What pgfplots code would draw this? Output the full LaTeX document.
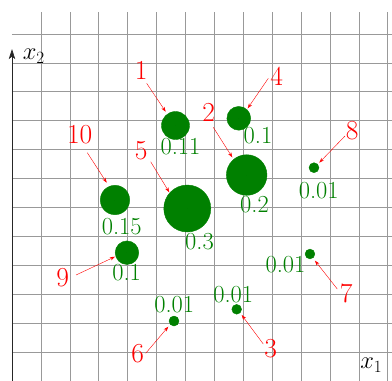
\documentclass[border=0pt]{standalone}
\usepackage{fix-cm}
\usepackage{pgfplots}
\pgfplotsset{compat=1.18}
\usetikzlibrary{arrows.meta}
\definecolor{dotgreen}{RGB}{0,128,0}
\newcommand{\redfont}{\fontsize{27.5}{30}\selectfont}
\newcommand{\greenfont}{\fontsize{24.5}{27}\selectfont}
\pgfplotstableread{
x       y      r     lab   dx     dy
5.657   8.827  14.0  0.11  5.0    -21.3
7.848   9.076  11.9  0.1   19.2   -17.2
8.121   7.114  20.3  0.2   7.8    -30.0
10.45   7.367  5.0   0.01  4.8    -23.1
6.066   5.955  23.5  0.3   12.2   -33.0
3.564   6.249  14.7  0.15  6.7    -26.2
3.979   4.426  11.8  0.1   -0.3   -20.1
5.606   2.062  5.0   0.01  0.2    16.5
7.775   2.467  4.9   0.01  -3.4   14.6
10.311  4.381  4.9   0.01  -24.5  -10.2
}\pointtable
\begin{document}
\begin{tikzpicture}
\begin{axis}[name=ax, x=28.9pt, y=28.9pt,
  xmin=-0.415, xmax=13.149, ymin=0.021, ymax=13.17,
  hide axis, clip=false, scale only axis]
% grid
\pgfplotsinvokeforeach{1,...,13}{\draw[black!40, line width=0.42pt] (axis cs:#1,-0.2) -- (axis cs:#1,12.754);}
\pgfplotsinvokeforeach{1,...,12}{\draw[black!40, line width=0.42pt] (axis cs:0,#1) -- (axis cs:13.4,#1);}
% vertical axis
\draw[black!85, line width=0.7pt, -{Stealth[length=10pt,width=6.5pt,inset=2.5pt]}] (axis cs:0,-0.5) -- (axis cs:0,11.47);
\node[font=\fontsize{24.5}{27}\selectfont] at (axis cs:0.754,11.22) {$x_2$};
\node[font=\fontsize{24.5}{27}\selectfont] at (axis cs:12.433,0.529) {$x_1$};
% weighted points
\addplot[scatter, only marks, mark=*,
  scatter/use mapped color={draw=dotgreen, fill=dotgreen},
  visualization depends on={\thisrow{r}\as\rad},
  scatter/@pre marker code/.append style={/tikz/mark size=\rad}]
  table[x=x, y=y, meta=r] {\pointtable};
% value labels
\addplot[only marks, mark=*, mark size=0pt, mark options={draw=none, fill=none},
  point meta=explicit symbolic,
  visualization depends on={\thisrow{dx}\as\dx},
  visualization depends on={\thisrow{dy}\as\dy},
  nodes near coords={\pgfplotspointmeta},
  every node near coord/.append style={anchor=center, inner sep=0pt,
    xshift=\dx pt, yshift=\dy pt, text=dotgreen, font=\greenfont}]
  table[x=x, y=y, meta=lab] {\pointtable};
% red index labels
\node[red, font=\redfont] at (axis cs:4.474,10.72) {1};
\node[red, font=\redfont] at (axis cs:6.810,9.277) {2};
\node[red, font=\redfont] at (axis cs:8.952,1.100) {3};
\node[red, font=\redfont] at (axis cs:9.159,10.53) {4};
\node[red, font=\redfont] at (axis cs:4.474,7.962) {5};
\node[red, font=\redfont] at (axis cs:4.353,0.945) {6};
\node[red, font=\redfont] at (axis cs:11.567,3.003) {7};
\node[red, font=\redfont] at (axis cs:11.772,8.644) {8};
\node[red, font=\redfont] at (axis cs:1.758,3.574) {9};
\node[red, font=\redfont] at (axis cs:2.343,8.498) {10};
% arrows
\tikzset{redarrow/.style={red, line width=0.4pt, -{Stealth[length=5pt,width=3.5pt]}}}
\draw[redarrow] (axis cs:4.661,10.287) -- (axis cs:5.318,9.304);
\draw[redarrow] (axis cs:6.965,8.765) -- (axis cs:7.623,7.727);
\draw[redarrow] (axis cs:8.696,1.266) -- (axis cs:7.948,2.270);
\draw[redarrow] (axis cs:8.869,10.460) -- (axis cs:8.156,9.422);
\draw[redarrow] (axis cs:4.799,7.574) -- (axis cs:5.443,6.516);
\draw[redarrow] (axis cs:4.626,0.945) -- (axis cs:5.408,1.865);
\draw[redarrow] (axis cs:11.256,3.170) -- (axis cs:10.484,4.149);
\draw[redarrow] (axis cs:11.522,8.464) -- (axis cs:10.633,7.540);
\draw[redarrow] (axis cs:2.215,3.654) -- (axis cs:3.564,4.287);
\draw[redarrow] (axis cs:2.606,7.886) -- (axis cs:3.277,6.848);
\end{axis}
\pgfresetboundingbox
\path[use as bounding box] (ax.south west) rectangle (ax.north east);
\end{tikzpicture}
\end{document}
